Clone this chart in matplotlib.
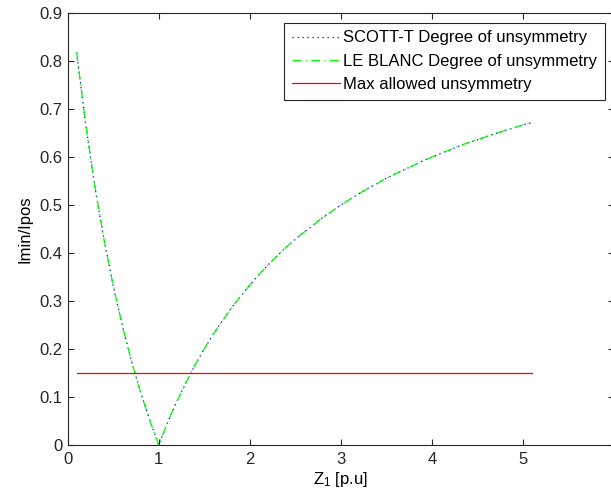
from matplotlib import pyplot as plt

plt.rcParams['font.family'] = ['Liberation Sans', 'DejaVu Sans']
plt.rcParams['mathtext.default'] = 'regular'

# load impedance Z1 [p.u]
z1 = [0.1, 0.2, 0.3, 0.4, 0.5, 0.6, 0.7, 0.8, 0.9, 1.0,
      1.1, 1.2, 1.3, 1.4, 1.5, 1.6, 1.7, 1.8, 1.9, 2.0,
      2.1, 2.2, 2.3, 2.4, 2.5, 2.6, 2.7, 2.8, 2.9, 3.0,
      3.1, 3.2, 3.3, 3.4, 3.5, 3.6, 3.7, 3.8, 3.9, 4.0,
      4.1, 4.2, 4.3, 4.4, 4.5, 4.6, 4.7, 4.8, 4.9, 5.0, 5.1]

# degree of unsymmetry Imin/Ipos
scott_t = [0.818, 0.667, 0.538, 0.429, 0.333, 0.250, 0.176, 0.111, 0.053, 0.000,
           0.048, 0.091, 0.130, 0.167, 0.200, 0.231, 0.259, 0.286, 0.310, 0.333,
           0.355, 0.375, 0.394, 0.412, 0.429, 0.444, 0.459, 0.474, 0.487, 0.500,
           0.512, 0.524, 0.535, 0.545, 0.556, 0.565, 0.574, 0.583, 0.592, 0.600,
           0.608, 0.615, 0.623, 0.630, 0.636, 0.643, 0.649, 0.655, 0.661, 0.667, 0.672]

le_blanc = [0.818, 0.667, 0.538, 0.429, 0.333, 0.250, 0.176, 0.111, 0.053, 0.000,
            0.048, 0.091, 0.130, 0.167, 0.200, 0.231, 0.259, 0.286, 0.310, 0.333,
            0.355, 0.375, 0.394, 0.412, 0.429, 0.444, 0.459, 0.474, 0.487, 0.500,
            0.512, 0.524, 0.535, 0.545, 0.556, 0.565, 0.574, 0.583, 0.592, 0.600,
            0.608, 0.615, 0.623, 0.630, 0.636, 0.643, 0.649, 0.655, 0.661, 0.667, 0.672]

max_unsym = 0.15

x_ticks = [0, 1, 2, 3, 4, 5]
y_ticks = [0, 0.1, 0.2, 0.3, 0.4, 0.5, 0.6, 0.7, 0.8, 0.9]
y_tick_labels = ['0', '0.1', '0.2', '0.3', '0.4', '0.5', '0.6', '0.7', '0.8', '0.9']


def plot():
    fig = plt.figure(figsize=(6.11, 4.94), dpi=100)
    ax = fig.add_axes([0.1105, 0.0992, 0.895, 0.8745])

    ax.plot(z1, scott_t, c='blue', ls=(0, (1, 3)), lw=0.9,
            label='SCOTT-T Degree of unsymmetry')
    ax.plot(z1, le_blanc, c='lime', ls=(0, (7, 3.5, 1, 3.5)), lw=0.9,
            label='LE BLANC Degree of unsymmetry')
    ax.plot([z1[0], z1[-1]], [max_unsym, max_unsym], c='red', lw=0.9,
            label='Max allowed unsymmetry')

    ax.set_xlim(0, 6)
    ax.set_ylim(0, 0.9)
    ax.set_xticks(x_ticks)
    ax.set_yticks(y_ticks)
    ax.set_yticklabels(y_tick_labels)
    ax.tick_params(direction='in', length=4, width=0.8, top=True, right=True,
                   labelsize=12, colors='#262626')
    ax.tick_params(axis='x', pad=5)
    for s in ax.spines.values():
        s.set_linewidth(0.8)
        s.set_color('#262626')

    ax.set_xlabel('Z$_1$ [p.u]', fontsize=12, labelpad=2)
    ax.set_ylabel('Imin/Ipos', fontsize=12, labelpad=5)

    leg = ax.legend(loc='upper right', bbox_to_anchor=(0.9826, 0.977),
                    fontsize=12, fancybox=False, framealpha=1,
                    edgecolor='#262626', borderpad=0.45, labelspacing=0.5,
                    handlelength=2.9, handletextpad=0.2, borderaxespad=0)
    leg.get_frame().set_linewidth(0.8)

    plt.savefig('out.png', dpi=100)
    plt.close()


if __name__ == '__main__':
    plot()
